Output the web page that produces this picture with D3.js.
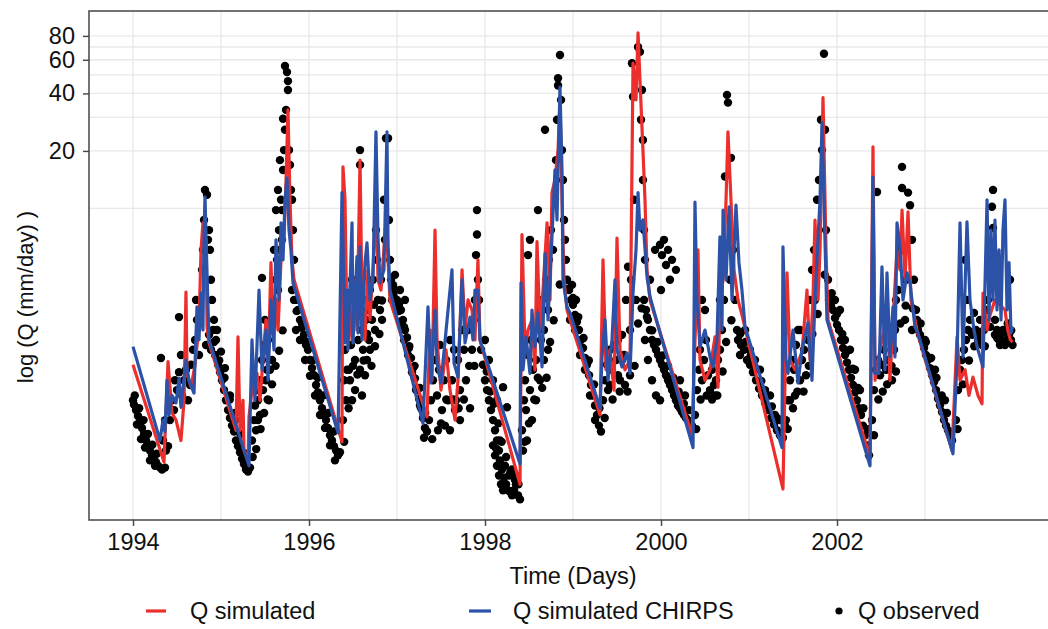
<!DOCTYPE html>
<html>
<head>
<meta charset="utf-8">
<script src="https://cdn.jsdelivr.net/npm/d3@7"></script>
<style>
  body { margin: 0; background: #fff; }
  text { font-family: "Liberation Sans", Arial, sans-serif; }
</style>
</head>
<body>
<div id="chart"></div>
<script>
// axis breaks
var yearTicks = [1994, 1996, 1998, 2000, 2002];
var yearGrid = [1994, 1995, 1996, 1997, 1998, 1999, 2000, 2001, 2002, 2003];
var qTicks = [20, 40, 60, 80];
var qGrid = [10, 20, 30, 40, 50, 60, 70, 80];
var seriesNames = ["Q simulated", "Q simulated CHIRPS", "Q observed"];

// [decimal year, Q (mm/day)]
var qSimulated = [
  [1994.000,1.52],[1994.352,0.47],[1994.398,1.58],[1994.443,0.85],[1994.489,0.78],[1994.545,0.61],[1994.580,0.99],[1994.602,3.65],[1994.614,1.37],[1994.659,1.16],[1994.705,1.52],[1994.750,2.4],[1994.773,6.07],[1994.795,8.4],[1994.830,6.85],[1994.841,2.4],[1994.864,1.98],
  [1995.170,0.69],[1995.193,2.13],[1995.216,0.69],[1995.250,0.99],[1995.261,0.54],[1995.307,0.48],[1995.318,0.81],[1995.352,1.12],[1995.409,1.37],[1995.443,0.99],[1995.477,1.61],[1995.511,2.61],[1995.534,1.43],[1995.568,5.2],[1995.591,2.31],[1995.625,3.32],[1995.648,2.31],[1995.682,5.38],[1995.716,6.85],[1995.739,14.1],[1995.761,32.8],[1995.784,11.1],[1995.807,5.38],[1995.830,4.23],
  [1996.375,0.60],[1996.386,16.5],[1996.409,11.1],[1996.432,2.31],[1996.455,3.32],[1996.489,2.05],[1996.523,4.23],[1996.545,2.31],[1996.580,17.9],[1996.602,3.32],[1996.636,2.05],[1996.670,4.77],[1996.693,2.61],[1996.739,6.07],[1996.761,14.1],[1996.784,4.23],[1996.818,3.74],[1996.875,8.7],[1996.898,5.38],[1996.920,3.32],
  [1997.341,0.81],[1997.375,2.31],[1997.398,1.26],[1997.432,7.7],[1997.455,2.05],[1997.500,1.12],[1997.557,1.82],[1997.602,1.12],[1997.659,0.78],[1997.693,1.26],[1997.739,4.77],[1997.773,2.31],[1997.807,3.32],[1997.852,2.94],[1997.886,2.05],[1997.920,5.38],[1997.943,2.05],
  [1998.398,0.36],[1998.420,7.3],[1998.455,1.82],[1998.489,2.31],[1998.534,2.61],[1998.568,1.43],[1998.591,6.7],[1998.625,2.31],[1998.659,3.74],[1998.705,8.4],[1998.739,3.32],[1998.761,12.1],[1998.795,14.1],[1998.830,20.2],[1998.852,37],[1998.875,11.1],[1998.898,4.23],[1998.932,2.94],[1998.966,2.61],
  [1999.307,0.83],[1999.341,5.38],[1999.375,1.43],[1999.420,1.82],[1999.466,1.12],[1999.500,7.0],[1999.534,1.82],[1999.591,1.43],[1999.648,1.61],[1999.682,57.6],[1999.716,37],[1999.739,83],[1999.761,47],[1999.795,20.2],[1999.818,11.1],[1999.841,4.77],[1999.875,3.32],
  [2000.352,0.65],[2000.420,6.07],[2000.443,1.61],[2000.500,1.26],[2000.557,1.43],[2000.614,2.13],[2000.648,1.16],[2000.670,3.32],[2000.705,4.23],[2000.739,11.1],[2000.761,25.2],[2000.795,11.1],[2000.830,4.77],[2000.875,3.32],[2000.920,2.77],
  [2001.386,0.34],[2001.432,4.6],[2001.466,1.61],[2001.523,1.43],[2001.602,1.77],[2001.659,3.74],[2001.693,1.61],[2001.727,3.32],[2001.750,8.7],[2001.784,3.32],[2001.807,6.07],[2001.841,38],[2001.875,6.07],[2001.898,2.61],
  [2002.375,0.50],[2002.409,21],[2002.432,1.26],[2002.489,1.82],[2002.534,2.31],[2002.568,3.32],[2002.602,1.26],[2002.636,2.61],[2002.682,6.07],[2002.716,4.77],[2002.739,9.8],[2002.773,4.23],[2002.807,9.6],[2002.841,3.32],[2002.886,2.61],[2002.920,2.18],
  [2003.307,0.54],[2003.364,2.13],[2003.398,1.26],[2003.455,1.43],[2003.500,1.05],[2003.545,1.31],[2003.602,1.05],[2003.648,0.95],[2003.659,3.61],[2003.705,2.31],[2003.739,2.77],[2003.795,3.32],[2003.852,3.13],[2003.909,2.94],[2003.940,2.31],[2003.970,2.05],[2003.995,2.0]
];

var qChirps = [
  [1994.000,1.89],[1994.307,0.61],[1994.341,0.78],[1994.364,0.68],[1994.386,1.26],[1994.409,0.83],[1994.443,1.05],[1994.489,0.96],[1994.523,1.29],[1994.545,0.91],[1994.602,1.61],[1994.636,1.26],[1994.693,1.08],[1994.727,3.05],[1994.750,2.05],[1994.773,3.61],[1994.795,2.31],[1994.807,7.1],[1994.818,11.5],[1994.841,4.6],[1994.864,2.05],
  [1995.318,0.45],[1995.352,2.05],[1995.386,0.99],[1995.432,3.74],[1995.466,1.43],[1995.511,2.31],[1995.534,1.26],[1995.568,3.32],[1995.602,1.82],[1995.625,6.85],[1995.659,3.32],[1995.682,8.4],[1995.705,5.38],[1995.727,11.1],[1995.750,14.4],[1995.773,7.7],[1995.795,6.07],[1995.818,4.08],
  [1996.330,0.67],[1996.375,12.1],[1996.409,1.98],[1996.432,3.74],[1996.443,1.82],[1996.489,8.4],[1996.500,1.98],[1996.545,5.6],[1996.557,2.23],[1996.580,6.3],[1996.602,2.05],[1996.636,5.2],[1996.659,6.6],[1996.693,3.32],[1996.727,4.23],[1996.761,25.2],[1996.784,7.1],[1996.807,4.08],[1996.852,4.77],[1996.886,25.2],[1996.898,6.6],[1996.920,3.74],
  [1997.295,0.75],[1997.352,3.05],[1997.386,1.22],[1997.432,2.94],[1997.455,1.55],[1997.500,1.22],[1997.580,2.94],[1997.625,4.77],[1997.648,1.55],[1997.693,1.31],[1997.739,4.23],[1997.773,1.98],[1997.830,2.7],[1997.864,2.05],[1997.886,3.74],[1997.920,3.74],[1997.943,2.05],
  [1998.398,0.46],[1998.409,4.08],[1998.432,1.43],[1998.466,2.13],[1998.511,1.37],[1998.534,2.94],[1998.568,1.89],[1998.602,2.84],[1998.648,1.48],[1998.682,5.8],[1998.716,2.61],[1998.761,7.1],[1998.795,15.9],[1998.818,8.7],[1998.852,43.2],[1998.875,15.9],[1998.886,4.23],[1998.932,3.05],[1998.966,2.84],
  [1999.307,0.90],[1999.330,1.67],[1999.364,2.61],[1999.398,1.26],[1999.443,2.05],[1999.477,4.23],[1999.500,1.82],[1999.557,1.48],[1999.614,1.75],[1999.648,1.37],[1999.682,3.61],[1999.716,6.07],[1999.739,12.1],[1999.761,7.7],[1999.795,8.7],[1999.841,4.4],[1999.875,3.45],[1999.989,2.23],
  [2000.364,0.56],[2000.386,10.8],[2000.409,3.32],[2000.443,1.89],[2000.500,2.31],[2000.557,1.67],[2000.591,1.48],[2000.636,2.05],[2000.670,7.1],[2000.693,2.31],[2000.705,9.8],[2000.739,4.23],[2000.773,10.2],[2000.807,3.32],[2000.852,10.4],[2000.886,5.2],[2000.920,3.74],[2000.955,2.4],
  [2001.375,0.56],[2001.386,6.3],[2001.420,1.61],[2001.443,1.37],[2001.500,2.31],[2001.557,1.22],[2001.602,1.82],[2001.670,2.52],[2001.716,1.26],[2001.750,3.32],[2001.784,6.85],[2001.807,11.1],[2001.830,28.1],[2001.852,11.1],[2001.886,2.61],
  [2002.375,0.45],[2002.409,14.6],[2002.432,1.37],[2002.477,1.37],[2002.511,4.95],[2002.545,1.43],[2002.568,4.6],[2002.602,1.67],[2002.636,3.05],[2002.659,1.67],[2002.682,8.4],[2002.716,6.3],[2002.750,3.32],[2002.795,4.6],[2002.830,4.08],[2002.886,2.4],[2002.920,2.23],
  [2003.318,0.52],[2003.364,1.61],[2003.398,8.4],[2003.432,1.67],[2003.477,8.5],[2003.511,3.32],[2003.557,2.31],[2003.591,1.89],[2003.659,1.48],[2003.705,11.1],[2003.727,2.61],[2003.750,7.7],[2003.773,3.32],[2003.795,8.7],[2003.818,2.94],[2003.841,6.07],[2003.864,2.61],[2003.886,7.7],[2003.909,11.1],[2003.932,2.94],[2003.955,5.2],[2003.977,2.23],[2003.995,2.4]
];

var qObserved = [
  [1994.000,0.99],[1994.011,0.94],[1994.034,0.88],[1994.057,0.82],[1994.080,0.76],[1994.102,0.71],[1994.125,0.66],[1994.148,0.61],[1994.170,0.57],[1994.193,0.54],[1994.216,0.51],[1994.239,0.485],[1994.261,0.47],[1994.284,0.45],[1994.307,0.44],[1994.330,0.43],[1994.364,0.44],
  [1994.045,0.74],[1994.091,0.62],[1994.136,0.56],[1994.193,0.48],[1994.250,0.45],
  [1994.020,1.05],[1994.070,0.9],[1994.120,0.78],[1994.170,0.66],[1994.220,0.58],[1994.270,0.52],
  [1994.341,0.61],[1994.364,0.78],[1994.375,0.54],[1994.398,0.57],[1994.420,0.78],[1994.443,0.99],[1994.466,0.88],[1994.477,1.26],[1994.500,1.12],[1994.523,1.39],[1994.545,1.71],[1994.557,1.05],[1994.580,1.26],[1994.602,1.43],[1994.625,0.99],[1994.648,1.19],[1994.659,1.52],[1994.682,1.82],[1994.705,2.05],[1994.716,3.32],[1994.727,2.61],[1994.750,1.71],[1994.761,2.94],[1994.784,4.77],[1994.795,6.07],[1994.807,8.7],[1994.818,12.5],[1994.841,11.8],[1994.852,6.85],[1994.864,7.7],[1994.875,6.07],[1994.886,4.23],[1994.898,3.32],[1994.920,2.61],[1994.523,2.7],[1994.318,1.65],
  [1994.830,1.93],[1994.864,2.18],[1994.886,1.82],[1994.909,2.31],[1994.932,1.71],[1994.943,2.05],[1994.966,1.52],[1994.989,1.39],[1995.011,1.26],[1995.034,1.12],[1995.057,0.99],[1995.080,0.88],[1995.102,0.80],[1995.125,0.73],[1995.148,0.68],[1995.170,0.61],[1995.193,0.57],[1995.216,0.53],[1995.239,0.49],[1995.261,0.46],[1995.284,0.43],[1995.307,0.42],[1995.330,0.44],
  [1994.955,2.31],[1995.000,1.78],[1995.045,1.46],[1995.102,1.05],[1995.159,0.78],
  [1994.920,2.0],[1994.980,1.6],[1995.040,1.3],[1995.100,1.0],[1995.160,0.85],[1995.220,0.66],[1995.280,0.52],
  [1995.352,0.61],[1995.375,0.78],[1995.386,0.93],[1995.409,1.12],[1995.420,0.78],[1995.443,1.26],[1995.466,1.61],[1995.466,4.33],[1995.489,1.93],[1995.500,2.61],[1995.523,1.43],[1995.534,2.05],[1995.545,0.99],[1995.557,2.31],[1995.580,1.61],[1995.591,3.32],[1995.614,2.61],[1995.625,4.23],[1995.636,5.38],[1995.648,3.74],[1995.659,7.7],[1995.670,6.07],[1995.682,11.1],[1995.693,9.8],[1995.705,15.9],[1995.705,29.5],[1995.727,25.8],[1995.727,55.7],[1995.750,51.7],[1995.761,46.4],[1995.761,41.7],[1995.773,20.2],[1995.784,16.9],[1995.795,12.5],[1995.807,11.1],[1995.818,7.7],[1995.830,5.38],
  [1995.602,6.07],[1995.625,9.8],[1995.648,12.5],[1995.670,17.9],[1995.716,20.2],[1995.693,6.85],[1995.739,32.8],
  [1995.420,0.99],[1995.477,1.12],[1995.511,1.26],[1995.557,1.43],[1995.398,0.69],[1995.443,0.83],
  [1995.360,0.5],[1995.400,0.55],[1995.450,0.7],[1995.490,0.85],[1995.530,1.0],[1995.580,1.2],[1995.620,1.5],[1995.660,1.8],[1995.700,2.3],
  [1995.807,3.74],[1995.830,3.32],[1995.852,3.32],[1995.875,2.94],[1995.898,2.61],[1995.920,2.37],[1995.943,2.18],[1995.966,1.93],[1995.989,1.82],[1996.011,1.61],[1996.034,1.46],[1996.057,1.34],[1996.080,1.19],[1996.102,1.09],[1996.125,0.99],[1996.148,0.90],[1996.170,0.83],[1996.193,0.78],[1996.216,0.71],[1996.239,0.65],[1996.261,0.61],[1996.284,0.57],[1996.307,0.54],[1996.330,0.51],
  [1995.852,2.31],[1995.898,2.05],[1995.955,1.61],[1996.011,1.33],[1996.068,1.05],[1996.125,0.83],[1996.182,0.71],[1996.239,0.575],[1996.295,0.48],[1996.352,0.53],
  [1995.860,2.9],[1995.920,2.5],[1995.980,2.0],[1996.040,1.6],[1996.100,1.3],[1996.160,1.05],[1996.220,0.85],[1996.280,0.68],
  [1996.386,0.78],[1996.398,1.26],[1996.409,1.82],[1996.420,0.99],[1996.443,2.31],[1996.455,1.43],[1996.466,3.32],[1996.477,1.93],[1996.489,4.23],[1996.511,2.61],[1996.523,1.61],[1996.534,3.32],[1996.557,2.05],[1996.568,2.94],[1996.580,20.2],[1996.580,16.9],[1996.591,3.74],[1996.602,2.31],[1996.614,1.82],[1996.625,3.32],[1996.648,2.61],[1996.659,1.61],[1996.670,2.94],[1996.682,2.05],[1996.693,3.74],[1996.716,2.61],[1996.727,4.23],[1996.739,3.13],[1996.750,2.31],[1996.761,7.7],[1996.773,5.38],[1996.784,3.32],[1996.807,2.94],[1996.818,4.23],[1996.830,2.61],[1996.852,11.1],[1996.864,6.85],[1996.875,23.3],[1996.898,23.3],[1996.909,8.7],[1996.920,5.38],
  [1996.466,1.26],[1996.523,1.12],[1996.580,1.43],[1996.636,1.34],[1996.693,1.82],[1996.432,1.43],[1996.489,0.99],[1996.602,1.05],
  [1996.400,0.6],[1996.450,0.9],[1996.500,1.5],[1996.550,1.35],[1996.620,1.6],[1996.660,2.2],[1996.710,1.5],[1996.750,1.9],[1996.800,2.2],[1996.830,3.3],
  [1996.932,4.23],[1996.955,3.98],[1996.977,3.74],[1997.000,3.32],[1997.023,3.13],[1997.045,2.94],[1997.068,2.61],[1997.091,2.31],[1997.114,2.11],[1997.136,1.86],[1997.159,1.65],[1997.182,1.46],[1997.205,1.29],[1997.227,1.15],[1997.250,1.01],[1997.273,0.90],[1997.295,0.80],[1997.318,0.71],[1997.341,0.68],
  [1996.943,3.32],[1996.989,2.94],[1997.034,2.55],[1997.080,2.05],[1997.125,1.71],[1997.170,1.39],[1997.216,1.12],[1997.261,0.93],[1997.307,0.63],
  [1996.977,4.49],[1997.034,3.74],[1997.091,3.32],
  [1996.960,3.5],[1997.020,2.9],[1997.080,2.4],[1997.140,1.9],[1997.200,1.5],[1997.260,1.15],[1997.320,0.85],
  [1997.364,0.78],[1997.386,0.99],[1997.409,1.26],[1997.432,1.61],[1997.455,1.05],[1997.477,1.43],[1997.489,1.93],[1997.511,0.88],[1997.534,1.26],[1997.557,1.61],[1997.580,0.99],[1997.602,2.05],[1997.625,1.26],[1997.648,1.82],[1997.670,0.99],[1997.693,1.61],[1997.716,1.12],[1997.739,2.31],[1997.761,1.82],[1997.784,1.26],[1997.807,2.31],[1997.830,0.90],[1997.852,1.82],[1997.875,2.61],[1997.886,3.32],[1997.898,5.7],[1997.909,7.3],[1997.909,9.8],[1997.920,4.23],[1997.932,3.32],
  [1997.545,0.73],[1997.602,0.69],[1997.466,0.69],[1997.659,0.88],[1997.716,0.78],
  [1997.400,0.62],[1997.500,0.75],[1997.560,1.0],[1997.640,1.0],[1997.700,0.9],[1997.760,1.0],[1997.820,1.5],[1997.880,1.5],
  [1997.955,1.82],[1997.977,1.52],[1998.000,1.26],[1998.023,1.12],[1998.045,0.99],[1998.068,0.88],[1998.091,0.78],[1998.114,0.69],[1998.136,0.61],[1998.159,0.54],[1998.170,0.48],[1998.193,0.43],[1998.216,0.39],[1998.239,0.36],[1998.261,0.335],[1998.284,0.33],[1998.307,0.315],[1998.330,0.335],[1998.352,0.36],[1998.375,0.315],[1998.398,0.30],
  [1998.091,0.575],[1998.114,0.51],[1998.136,0.45],[1998.159,0.40],[1998.182,0.36],[1998.205,0.335],[1998.125,0.555],[1998.170,0.61],[1998.227,0.45],[1998.273,0.40],
  [1998.000,2.05],[1998.045,1.61],[1998.091,1.26],[1998.136,0.99],[1998.205,1.16],[1998.250,0.91],[1998.307,0.43],[1998.352,0.40],
  [1998.020,1.4],[1998.060,1.1],[1998.100,0.95],[1998.150,0.75],[1998.190,0.6],[1998.240,0.5],[1998.290,0.42],[1998.340,0.38],[1998.380,0.36],
  [1998.420,0.69],[1998.443,0.99],[1998.455,1.26],[1998.466,0.88],[1998.489,1.71],[1998.489,5.7],[1998.511,1.12],[1998.523,2.05],[1998.545,1.43],[1998.568,2.31],[1998.580,1.61],[1998.602,9.8],[1998.614,2.94],[1998.636,2.05],[1998.648,3.32],[1998.670,2.31],[1998.682,25.8],[1998.693,4.23],[1998.716,2.94],[1998.727,5.38],[1998.750,7.7],[1998.773,6.07],[1998.795,11.1],[1998.807,17.9],[1998.818,29.1],[1998.830,44],[1998.830,48],[1998.852,63.5],[1998.864,37],[1998.875,20.2],[1998.886,14.1],[1998.898,8.7],[1998.909,6.85],[1998.920,5.38],
  [1998.432,0.54],[1998.477,0.61],[1998.534,0.78],[1998.580,0.99],[1998.625,1.26],[1998.670,1.61],[1998.716,1.82],[1998.511,6.85],
  [1998.450,0.6],[1998.500,0.75],[1998.560,1.0],[1998.600,1.3],[1998.650,1.15],[1998.700,1.3],[1998.740,2.0],[1998.780,2.6],[1998.850,4.0],
  [1998.932,4.23],[1998.955,3.74],[1998.977,3.32],[1999.000,3.13],[1999.023,2.77],[1999.045,2.55],[1999.068,2.31],[1999.091,2.05],[1999.114,1.86],[1999.136,1.65],[1999.159,1.52],[1999.182,1.34],[1999.205,1.19],[1999.227,1.05],[1999.250,0.93],[1999.273,0.83],[1999.295,0.73],[1999.318,0.68],
  [1998.966,2.61],[1999.023,2.31],[1999.080,1.71],[1999.136,1.43],[1999.193,1.05],[1999.250,0.78],[1998.989,3.98],[1999.034,3.32],
  [1998.940,3.8],[1999.000,3.4],[1999.060,2.7],[1999.120,2.1],[1999.180,1.6],[1999.240,1.2],[1999.300,0.9],
  [1999.341,0.99],[1999.364,1.26],[1999.386,1.52],[1999.398,1.12],[1999.420,1.82],[1999.443,1.43],[1999.466,1.93],[1999.489,1.61],[1999.511,2.05],[1999.534,1.26],[1999.557,2.18],[1999.580,1.71],[1999.602,3.32],[1999.625,4.95],[1999.648,2.31],[1999.670,57.6],[1999.682,38.4],[1999.693,11.1],[1999.716,3.32],[1999.739,70],[1999.761,66],[1999.773,29.1],[1999.784,41.7],[1999.795,22.8],[1999.795,14.1],[1999.807,7.7],[1999.818,5.38],
  [1999.420,1.19],[1999.511,1.34],[1999.591,1.19],[1999.648,1.34],[1999.557,1.61],[1999.659,4.23],
  [1999.360,0.8],[1999.450,1.0],[1999.530,1.1],[1999.620,1.1],[1999.700,1.5],[1999.740,2.5],[1999.780,3.0],
  [1999.807,3.32],[1999.830,2.94],[1999.852,2.61],[1999.875,2.31],[1999.898,2.05],[1999.920,1.93],[1999.943,1.82],[1999.966,1.71],[1999.989,1.61],[2000.011,1.52],[2000.034,1.43],[2000.057,1.34],[2000.080,1.26],[2000.102,1.19],[2000.125,1.12],[2000.148,1.05],[2000.170,0.99],[2000.193,0.93],[2000.216,0.90],[2000.239,0.86],[2000.261,0.83],[2000.284,0.80],[2000.307,0.78],[2000.330,0.76],[2000.352,0.73],
  [1999.875,4.23],[1999.932,6.07],[1999.989,6.45],[2000.034,6.85],[2000.080,6.07],[2000.125,5.38],[2000.170,4.77],[1999.852,1.61],[1999.898,1.26],[1999.943,1.05],[1999.989,0.99],[1999.818,2.05],[2000.216,1.26],[2000.273,1.05],
  [2000.011,5.7],[2000.057,5.06],[2000.102,4.23],[2000.000,3.74],
  [1999.840,2.7],[1999.900,2.3],[1999.960,2.0],[2000.020,1.7],[2000.080,1.5],[2000.140,1.3],[2000.200,1.1],[2000.260,0.95],[2000.320,0.88],
  [2000.386,0.83],[2000.409,1.12],[2000.432,1.43],[2000.443,1.82],[2000.466,1.26],[2000.489,1.61],[2000.511,2.05],[2000.534,1.34],[2000.557,1.12],[2000.580,1.43],[2000.602,1.19],[2000.625,1.26],[2000.648,1.61],[2000.670,1.82],[2000.693,2.31],[2000.716,3.32],[2000.727,14.7],[2000.750,39.3],[2000.761,35.8],[2000.784,4.23],[2000.795,18.4],[2000.818,6.07],[2000.841,3.32],[2000.864,2.31],
  [2000.466,3.32],[2000.500,2.94],[2000.614,1.05],[2000.670,3.32],
  [2000.400,0.7],[2000.450,1.0],[2000.520,1.05],[2000.580,1.0],[2000.640,1.05],[2000.700,1.4],[2000.740,2.0],[2000.800,2.6],
  [2000.875,2.05],[2000.909,1.93],[2000.943,1.82],[2000.977,1.61],[2001.011,1.52],[2001.045,1.39],[2001.080,1.26],[2001.114,1.14],[2001.148,1.05],[2001.182,0.96],[2001.216,0.88],[2001.250,0.80],[2001.284,0.74],[2001.318,0.69],[2001.352,0.65],[2001.386,0.63],
  [2000.955,2.31],[2001.068,1.61],[2001.182,1.12],[2001.295,0.83],[2001.409,0.73],[2001.011,1.82],[2001.125,1.43],[2001.239,1.05],[2001.352,0.78],[2000.898,1.71],
  [2000.900,2.2],[2000.960,2.0],[2001.020,1.7],[2001.080,1.45],[2001.140,1.25],[2001.200,1.05],[2001.260,0.92],[2001.320,0.8],
  [2001.420,0.78],[2001.443,0.99],[2001.466,1.26],[2001.489,1.61],[2001.511,1.43],[2001.534,1.93],[2001.557,2.31],[2001.580,1.26],[2001.602,1.61],[2001.625,1.82],[2001.648,1.34],[2001.670,2.05],[2001.693,3.32],[2001.716,4.77],[2001.739,6.07],[2001.750,3.32],[2001.773,11.1],[2001.795,14.1],[2001.818,29.1],[2001.830,20.2],[2001.852,64.5],[2001.864,25.8],[2001.875,7.7],[2001.898,4.23],
  [2001.466,0.99],[2001.523,1.05],[2001.580,2.31],
  [2001.440,0.7],[2001.500,0.9],[2001.550,1.1],[2001.620,1.1],[2001.680,1.5],[2001.720,2.2],[2001.780,2.8],[2001.860,4.5],
  [2001.909,3.32],[2001.932,3.13],[2001.955,2.94],[2001.977,2.67],[2002.000,2.46],[2002.023,2.31],[2002.045,2.05],[2002.068,1.86],[2002.091,1.71],[2002.114,1.56],[2002.136,1.43],[2002.159,1.30],[2002.182,1.19],[2002.205,1.09],[2002.227,0.99],[2002.250,0.90],[2002.273,0.83],[2002.295,0.73],[2002.318,0.65],[2002.341,0.575],[2002.364,0.51],
  [2001.977,3.32],[2002.034,2.94],[2002.091,2.05],[2002.148,1.82],[2002.205,1.43],[2002.261,1.12],
  [2001.940,3.6],[2002.000,2.8],[2002.060,2.2],[2002.120,1.8],[2002.180,1.45],[2002.240,1.15],[2002.300,0.9],[2002.350,0.7],
  [2002.398,0.78],[2002.420,1.12],[2002.443,1.43],[2002.455,12.2],[2002.466,1.61],[2002.489,1.34],[2002.511,1.52],[2002.534,1.82],[2002.557,1.43],[2002.580,1.61],[2002.602,2.05],[2002.625,1.26],[2002.648,1.82],[2002.670,3.32],[2002.693,3.74],[2002.716,6.07],[2002.739,16.5],[2002.739,12.8],[2002.761,6.07],[2002.784,4.23],[2002.807,12.1],[2002.830,10.4],[2002.852,6.85],[2002.875,4.23],[2002.898,2.94],
  [2002.659,2.31],[2002.773,2.61],[2002.852,2.31],[2002.909,2.61],
  [2002.420,0.65],[2002.470,1.0],[2002.520,1.1],[2002.570,1.2],[2002.620,1.5],[2002.670,1.4],[2002.720,2.5],[2002.780,3.1],[2002.860,3.0],
  [2002.920,2.31],[2002.943,2.18],[2002.966,2.05],[2002.989,1.86],[2003.011,1.71],[2003.034,1.61],[2003.057,1.46],[2003.080,1.34],[2003.102,1.23],[2003.125,1.12],[2003.148,1.01],[2003.170,0.93],[2003.193,0.86],[2003.216,0.78],[2003.239,0.73],[2003.261,0.69],[2003.284,0.65],[2003.307,0.61],
  [2003.000,2.05],[2003.114,1.43],[2003.227,0.99],
  [2002.950,2.5],[2003.010,2.0],[2003.070,1.65],[2003.130,1.3],[2003.190,1.05],[2003.250,0.85],
  [2003.352,0.78],[2003.375,1.12],[2003.398,1.43],[2003.420,1.61],[2003.443,1.82],[2003.466,2.05],[2003.489,2.31],[2003.511,2.61],[2003.534,2.18],[2003.557,2.84],[2003.580,2.31],[2003.602,2.05],[2003.625,2.61],[2003.648,1.93],[2003.670,2.31],[2003.693,2.94],[2003.716,3.32],[2003.739,6.07],[2003.761,10.2],[2003.773,12.5],[2003.795,2.61],[2003.818,2.31],[2003.841,2.05],[2003.864,2.18],[2003.886,2.31],[2003.909,1.93],[2003.932,2.05],[2003.955,2.18],[2003.977,2.05],[2003.995,1.93],
  [2003.455,5.38],[2003.477,3.32],[2003.966,4.23],[2003.795,2.18],[2003.852,1.93],[2003.909,2.31],[2003.773,7.9],
  [2003.370,0.7],[2003.430,1.2],[2003.500,1.6],[2003.560,1.9],[2003.620,2.2],[2003.680,1.9],[2003.740,2.4],[2003.820,2.1],[2003.880,2.0],[2003.940,2.5],[2003.980,2.3]
];

var width = 1048, height = 629;
var panel = {left: 89, top: 11, right: 1057, bottom: 520};
var red = "#ec2f2c", blue = "#2c52a8";

var svg = d3.select("#chart").append("svg")
    .attr("width", width)
    .attr("height", height);

var x = d3.scaleLinear().domain([1993.5, 2004.5]).range([panel.left, panel.right]);
var y = d3.scaleLog().domain([0.234, 108]).range([panel.bottom, panel.top]);

svg.append("defs").append("clipPath").attr("id", "clip")
   .append("rect")
   .attr("x", panel.left).attr("y", panel.top)
   .attr("width", panel.right - panel.left).attr("height", panel.bottom - panel.top);

// grid
var grid = svg.append("g").attr("stroke", "#e8e8e8").attr("stroke-width", 1.3);
grid.selectAll("line.v").data(yearGrid).enter().append("line")
    .attr("x1", function(d) { return x(d); }).attr("x2", function(d) { return x(d); })
    .attr("y1", panel.top).attr("y2", panel.bottom);
grid.selectAll("line.h").data(qGrid).enter().append("line")
    .attr("y1", function(d) { return y(d); }).attr("y2", function(d) { return y(d); })
    .attr("x1", panel.left).attr("x2", panel.right);

var plot = svg.append("g").attr("clip-path", "url(#clip)");

// observed points go under the lines
plot.append("g")
    .selectAll("circle")
    .data(qObserved)
    .enter()
    .append("circle")
    .attr("cx", function(d) { return x(d[0]); })
    .attr("cy", function(d) { return y(d[1]); })
    .attr("r", 4.2)
    .attr("fill", "#000");

var line = d3.line()
    .x(function(d) { return x(d[0]); })
    .y(function(d) { return y(d[1]); });

plot.append("path").datum(qSimulated)
    .attr("d", line).attr("fill", "none")
    .attr("stroke", red).attr("stroke-width", 3.2).attr("stroke-linejoin", "round");
plot.append("path").datum(qChirps)
    .attr("d", line).attr("fill", "none")
    .attr("stroke", blue).attr("stroke-width", 3.2).attr("stroke-linejoin", "round");

// panel border
svg.append("rect")
   .attr("x", panel.left).attr("y", panel.top)
   .attr("width", panel.right - panel.left).attr("height", panel.bottom - panel.top)
   .attr("fill", "none").attr("stroke", "#505050").attr("stroke-width", 1.6);

// axes
var yAxis = svg.append("g")
    .attr("transform", "translate(" + panel.left + ",0)")
    .call(d3.axisLeft(y).tickValues(qTicks).tickFormat(d3.format("d")).tickSize(6).tickPadding(8));
var xAxis = svg.append("g")
    .attr("transform", "translate(0," + panel.bottom + ")")
    .call(d3.axisBottom(x).tickValues(yearTicks).tickFormat(d3.format("d")).tickSize(6).tickPadding(7));
[xAxis, yAxis].forEach(function(a) {
  a.select(".domain").remove();
  a.selectAll(".tick line").attr("stroke", "#444").attr("stroke-width", 1.4);
  a.selectAll(".tick text").attr("fill", "#111").style("font-size", "23.5px")
   .style("font-family", '"Liberation Sans", Arial, sans-serif');
});

// titles
svg.append("text")
   .attr("x", (panel.left + panel.right) / 2).attr("y", 584)
   .attr("text-anchor", "middle").attr("fill", "#111").style("font-size", "23.5px")
   .text("Time (Days)");
svg.append("text")
   .attr("transform", "translate(33,297) rotate(-90)")
   .attr("text-anchor", "middle").attr("fill", "#111").style("font-size", "22px")
   .text("log (Q (mm/day) )");

// legend
var legend = svg.append("g").style("font-size", "23.5px");
legend.append("line").attr("x1", 146).attr("x2", 166).attr("y1", 611).attr("y2", 611)
      .attr("stroke", red).attr("stroke-width", 3.2);
legend.append("text").attr("x", 190).attr("y", 619).attr("fill", "#111").text(seriesNames[0]);
legend.append("line").attr("x1", 469).attr("x2", 491).attr("y1", 611).attr("y2", 611)
      .attr("stroke", blue).attr("stroke-width", 3.2);
legend.append("text").attr("x", 513).attr("y", 619).attr("fill", "#111").text(seriesNames[1]);
legend.append("circle").attr("cx", 839).attr("cy", 611).attr("r", 3.6).attr("fill", "#000");
legend.append("text").attr("x", 858).attr("y", 619).attr("fill", "#111").text(seriesNames[2]);
</script>
</body>
</html>
